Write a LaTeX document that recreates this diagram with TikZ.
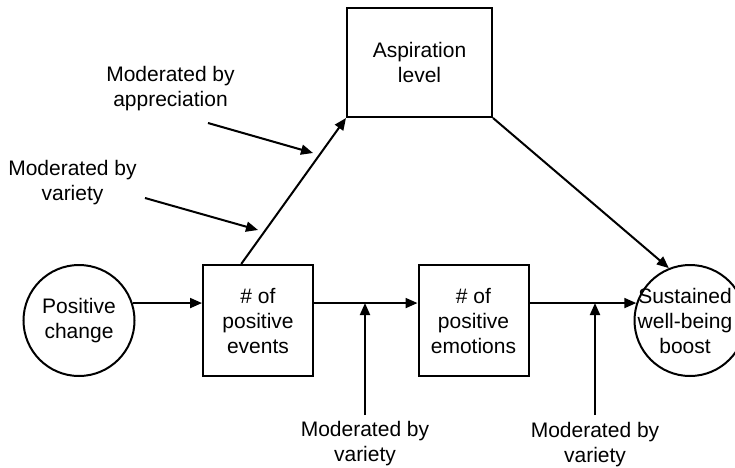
\documentclass[tikz,border=0pt]{standalone}
\usepackage{fontspec}
\setmainfont{Liberation Sans}
\usetikzlibrary{arrows.meta,positioning,calc}
\tikzset{
  box/.style={draw,line width=2pt,align=center,inner sep=0pt,minimum width=110pt,minimum height=111pt},
  disc/.style={draw,circle,line width=2pt,align=center,inner sep=0pt,minimum size=111pt},
  flow/.style={line width=2pt,-{Triangle[length=12pt,width=10pt]}},
  modlabel/.style={align=center,inner sep=0pt}
}
\newcommand{\shiftline}[1]{\makebox[0pt]{\hspace{-10pt}#1}}
\begin{document}
\begin{tikzpicture}[x=1pt,y=1pt,font=\fontsize{21}{25}\selectfont]
\useasboundingbox (0,0) rectangle (735,467);
%
\node[disc](pc) at (79,146.5) {Positive\\change};
\node[box](ev) at (258,146.5) {\# of\\positive\\events};
\node[box](em) at (473.5,146.5) {\# of\\positive\\emotions};
\node[disc](sw) at (690,146.5) {\shiftline{Sustained}\\\shiftline{well-being}\\\shiftline{boost}};
\node[box,minimum width=145pt,minimum height=109pt](asp) at (419.5,404.5) {Aspiration\\level};
%
\draw[flow](pc.18)--(ev.west|-pc.18);
\draw[flow](ev.east|-pc.18)--(em.west|-pc.18);
\draw[flow](em.east|-pc.18)--(sw.162);
\draw[flow]($(ev.north west)!0.35!(ev.north east)$)--(asp.south west);
\draw[flow](asp.south east)--(sw.112);
%
\node[modlabel](m1) at (365,23.5) {Moderated by\\variety};
\node[modlabel](m2) at (595,22.5) {Moderated by\\variety};
\node[modlabel](m3) at (170.5,378.5) {Moderated by\\appreciation};
\node[modlabel](m4) at (72.5,284.5) {Moderated by\\variety};
%
\coordinate(v1) at (365,52);
\coordinate(v2) at (595,52);
\draw[flow](v1)--(v1|-pc.18);
\draw[flow](v2)--(v2|-pc.18);
\coordinate(d1) at (208,344);
\coordinate(d1e) at (313,314);
\coordinate(d2) at (145,269);
\coordinate(d2e) at (258,237);
\draw[flow](d1)--(d1e);
\draw[flow](d2)--(d2e);
\end{tikzpicture}
\end{document}
